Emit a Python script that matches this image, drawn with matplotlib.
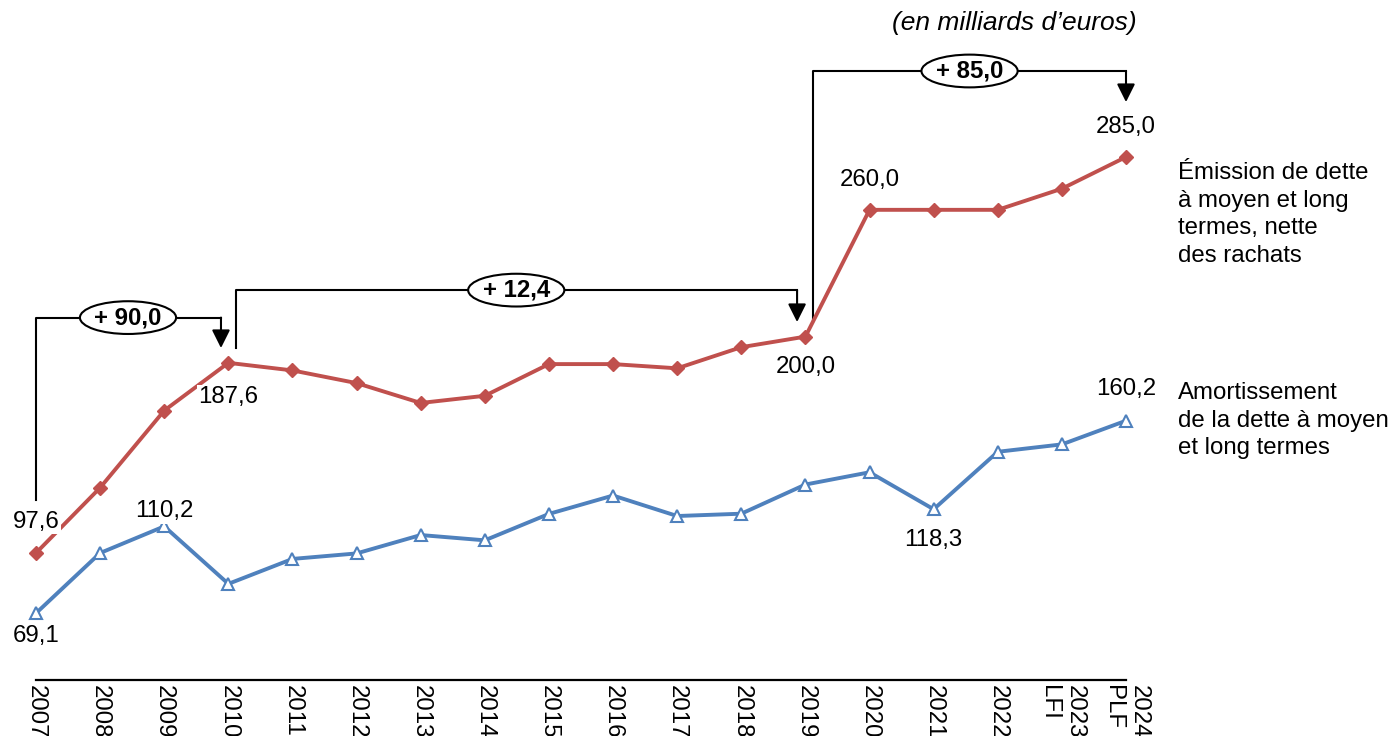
import matplotlib
matplotlib.use("Agg")
import matplotlib.pyplot as plt
from matplotlib.patches import Ellipse

plt.rcParams['font.family'] = ['Liberation Sans', 'DejaVu Sans']

# data (en milliards d'euros)
years = ['2007', '2008', '2009', '2010', '2011', '2012', '2013', '2014', '2015',
         '2016', '2017', '2018', '2019', '2020', '2021', '2022', '2023\nLFI', '2024\nPLF']
emission = [97.6, 128.5, 165.0, 187.6, 184.0, 178.0, 168.6, 172.0, 187.0,
            187.0, 185.0, 195.0, 200.0, 260.0, 260.0, 260.0, 270.0, 285.0]
amortissement = [69.1, 97.6, 110.2, 83.0, 94.8, 97.4, 106.1, 103.6, 116.1,
                 124.8, 115.1, 116.2, 130.0, 135.8, 118.3, 145.5, 149.0, 160.2]

# which points get a value label, and offset (px) of label centre
lab_emission = {0: 31, 3: -34, 12: -30, 13: 30, 17: 30}
lab_amort = {0: -23, 2: 15, 14: -31, 17: 32}

# brackets: (start x, start y, level, arrow x, arrow tip y, label, label x)
brackets = [
    (0.0, 122.7, 209.0, 2.885, 194.6, '+ 90,0', 1.435),
    (3.12, 194.6, 222.0, 11.87, 206.9, '+ 12,4', 7.49),
    (12.12, 206.9, 325.7, 17.0, 311.0, '+ 85,0', 14.56),
]

red = '#C0504D'
blue = '#4F81BD'
fs = 17.3

fig = plt.figure(figsize=(13.91, 7.36), dpi=100)
ax = fig.add_axes([36 / 1391, 56 / 736, 1090 / 1391, 680 / 736])
x = list(range(len(years)))

ax.plot(x, emission, '-D', color=red, lw=2.8, ms=7, zorder=3, clip_on=False)
ax.plot(x, amortissement, '-^', color=blue, lw=2.8, ms=9, mfc='white',
        mec=blue, mew=1.5, zorder=3, clip_on=False)

ax.set_xlim(0, 17)
ax.set_ylim(37.5, 359.3)
for s in ['top', 'left', 'right']:
    ax.spines[s].set_visible(False)
ax.spines['bottom'].set_linewidth(1.6)
ax.set_yticks([])
ax.set_xticks(x)
ax.set_xticklabels(years, rotation=270, fontsize=fs, va='top', ha='center',
                   multialignment='left')
ax.tick_params(axis='x', length=0, pad=3.5)

def value_labels(vals, labs):
    for i, off in labs.items():
        ax.annotate(('%.1f' % vals[i]).replace('.', ','), (i, vals[i]),
                    xytext=(0, off * 0.72), textcoords='offset points',
                    ha='center', va='center', fontsize=fs, zorder=4,
                    bbox=dict(boxstyle='square,pad=0.05', fc='white', ec='none'))

value_labels(emission, lab_emission)
value_labels(amortissement, lab_amort)

# brackets with arrows and ellipse labels
for x0, y0, lev, xa, ya, txt, xt in brackets:
    ax.plot([x0, x0, xa], [y0, lev, lev], color='black', lw=1.5, clip_on=False, zorder=2)
    ax.annotate('', xy=(xa, ya), xytext=(xa, lev),
                arrowprops=dict(arrowstyle='-|>,head_length=1.0,head_width=0.5',
                                mutation_scale=11, lw=1.5, color='black',
                                shrinkA=0, shrinkB=0), zorder=2)
    ax.add_patch(Ellipse((xt, lev), 1.5, 15.5, fc='white', ec='black', lw=1.5,
                         zorder=5, clip_on=False))
    ax.text(xt, lev, txt, ha='center', va='center', fontsize=fs,
            fontweight='bold', zorder=6)

fig.text(1014 / 1391, 1 - 23 / 736, '(en milliards d\u2019euros)', ha='center',
         va='center', fontsize=19, style='italic')
fig.text(1178 / 1391, 1 - 162 / 736,
         '\u00c9mission de dette\n\u00e0 moyen et long\ntermes, nette\ndes rachats',
         ha='left', va='top', fontsize=fs, linespacing=1.33)
fig.text(1178 / 1391, 1 - 382 / 736,
         'Amortissement\nde la dette \u00e0 moyen\net long termes',
         ha='left', va='top', fontsize=fs, linespacing=1.33)

fig.savefig('out.png', dpi=100)
